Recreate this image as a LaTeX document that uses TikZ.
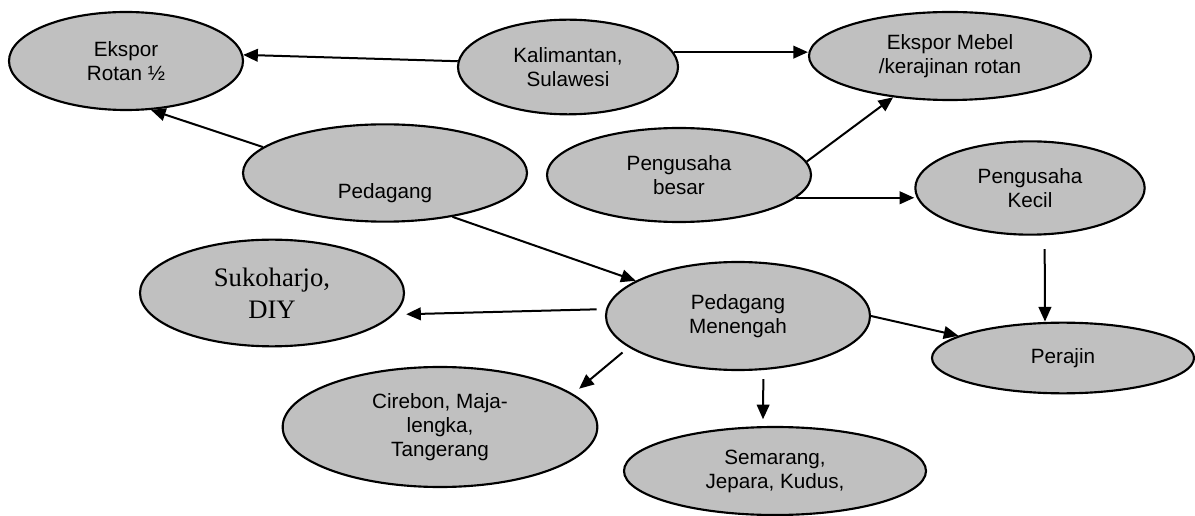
\documentclass[tikz,border=0pt]{standalone}
\usepackage{fontspec}
\setmainfont{Liberation Sans}
\newfontfamily\serifnode{Liberation Serif}
\usetikzlibrary{shapes.geometric,arrows.meta}
\definecolor{bubblegray}{RGB}{192,192,192}

\begin{document}
\begin{tikzpicture}[x=0.75pt,y=-0.75pt]
    \tikzstyle{every node}=[font={\fontsize{15.5}{18}\selectfont}]
    \tikzstyle{bubble}=[ellipse, draw, fill=bubblegray, line width=1.6pt, inner sep=0pt, align=center]
    \tikzstyle{flow}=[-{Triangle[length=11pt,width=9.5pt]}, line width=1.5pt]
    \useasboundingbox (0,0) rectangle (1195,516);

    \node[bubble, minimum width=175.5pt, minimum height=73.5pt] (ekspor) at (126,61) {Ekspor\\Rotan ½};
    \node[bubble, minimum width=165pt, minimum height=71pt] (kalimantan) at (568,67) {Kalimantan,\\Sulawesi};
    \node[bubble, minimum width=211.5pt, minimum height=66pt] (mebel) at (950,56) {Ekspor Mebel\\/kerajinan rotan};
    \node[bubble, minimum width=213pt, minimum height=73pt, text height=39pt, text depth=0pt] (pedagang) at (385,173) {Pedagang};
    \node[bubble, minimum width=198pt, minimum height=70.5pt] (besar) at (679,175) {Pengusaha\\besar};
    \node[bubble, minimum width=172pt, minimum height=70pt] (kecil) at (1030,188) {Pengusaha\\Kecil};
    \node[bubble, minimum width=198pt, minimum height=80pt, font={\serifnode\fontsize{20}{24}\selectfont}] (sukoharjo) at (272,293) {Sukoharjo,\\DIY};
    \node[bubble, minimum width=198pt, minimum height=81pt] (menengah) at (738,316) {Pedagang\\Menengah};
    \node[bubble, minimum width=196.5pt, minimum height=53pt] (perajin) at (1063,358) {Perajin};
    \node[bubble, minimum width=236pt, minimum height=90pt] (cirebon) at (440,427) {Cirebon, Maja-\\lengka,\\Tangerang};
    \node[bubble, minimum width=226.5pt, minimum height=66pt] (semarang) at (775,471) {Semarang,\\Jepara, Kudus,};

    \draw[flow] (kalimantan.177) -- (ekspor.3);
    \draw[flow] (kalimantan.8) -- (kalimantan.8 -| mebel.west);
    \draw[flow] (pedagang.168) -- (ekspor.-63);
    \draw[flow] (pedagang.-33) -- (menengah.161);
    \draw[flow] (besar.6) -- (mebel.-144);
    \draw[flow] (besar.-11) -- (besar.-11 -| kecil.west);
    \draw[flow] ([xshift=11pt,yshift=-10pt]kecil.south) -- ([xshift=-13.5pt]perajin.north);
    \draw[flow] (menengah.east) -- (perajin.168);
    \draw[flow, shorten <=7pt, shorten >=9pt] (menengah.177) -- (sukoharjo.-10);
    \draw[flow, shorten <=6pt, shorten >=6pt] (menengah.196) -- (cirebon.14);
    \draw[flow] ([xshift=19pt,yshift=-6pt]menengah.south) -- ([xshift=-9pt,yshift=5pt]semarang.north);
\end{tikzpicture}
\end{document}
